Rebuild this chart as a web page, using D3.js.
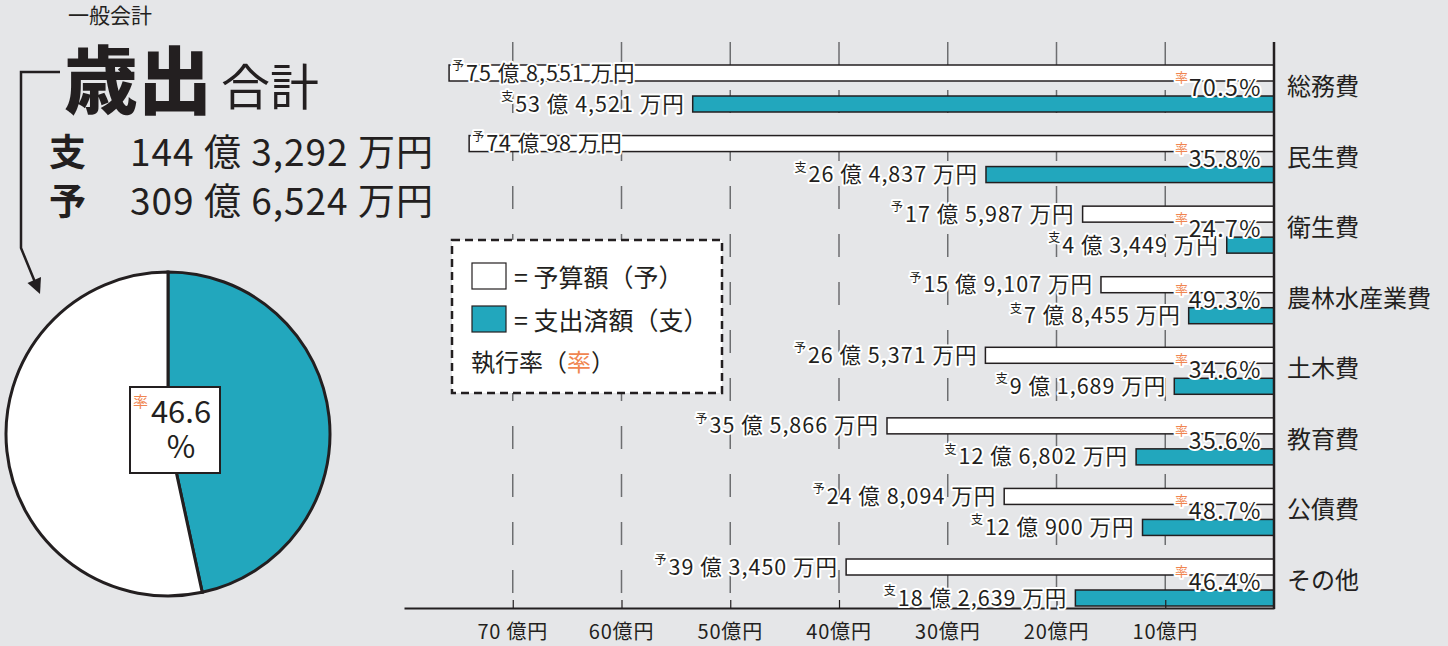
<!DOCTYPE html>
<html>
<head>
<meta charset="utf-8">
<script src="https://cdn.jsdelivr.net/npm/d3@7"></script>
<style>
  body { margin: 0; background: #e5e6e8; }
  svg { display: block; }
  text { font-family: 'Liberation Sans Narrow', 'Noto Sans CJK JP', sans-serif; fill: #231f20; }
  .jp { font-family: 'Noto Sans CJK JP', sans-serif; }
  .halo { paint-order: stroke; stroke: #fff; stroke-width: 4px; stroke-linejoin: round; }
</style>
</head>
<body>
<svg id="chart" width="1448" height="646"></svg>
<script>
// ------- Data (億円) -------
const categories = ['総務費', '民生費', '衛生費', '農林水産業費', '土木費', '教育費', '公債費', 'その他'];
const budget = [75.8551, 74.0098, 17.5987, 15.9107, 26.5371, 35.5866, 24.8094, 39.3450];
const budgetLabels = ['75 億 8,551 万円', '74 億 98 万円', '17 億 5,987 万円', '15 億 9,107 万円',
    '26 億 5,371 万円', '35 億 5,866 万円', '24 億 8,094 万円', '39 億 3,450 万円'];
const spent = [53.4521, 26.4837, 4.3449, 7.8455, 9.1689, 12.6802, 12.0900, 18.2639];
const spentLabels = ['53 億 4,521 万円', '26 億 4,837 万円', '4 億 3,449 万円', '7 億 8,455 万円',
    '9 億 1,689 万円', '12 億 6,802 万円', '12 億 900 万円', '18 億 2,639 万円'];
const rates = ['70.5%', '35.8%', '24.7%', '49.3%', '34.6%', '35.6%', '48.7%', '46.4%'];
const tickValues = [10, 20, 30, 40, 50, 60, 70];
const tickLabels = ['10億円', '20億円', '30億円', '40億円', '50億円', '60億円', '70 億円'];

const totalSpent = 144.3292;
const totalBudget = 309.6524;
const totalRate = '46.6';
const totalSpentLabel = '144 億 3,292 万円';
const totalBudgetLabel = '309 億 6,524 万円';

const teal = '#22a7bd';
const orange = '#f08550';
const ink = '#231f20';

const svg = d3.select('#chart');

// ------- Scales -------
const x = d3.scaleLinear().domain([0, 80]).range([1274, 404]);
const y = d3.scalePoint().domain(categories).range([86, 580]);
const barH = 16;

const rows = categories.map((c, i) => ({
    cat: c, budget: budget[i], spent: spent[i],
    budgetLabel: budgetLabels[i], spentLabel: spentLabels[i], rate: rates[i]
}));

// ------- Grid lines -------
svg.append('g')
    .selectAll('line')
    .data(tickValues)
    .join('line')
        .attr('x1', d => x(d)).attr('x2', d => x(d))
        .attr('y1', 42).attr('y2', 606)
        .attr('stroke', '#6d6e70')
        .attr('stroke-width', 1.5)
        .attr('stroke-dasharray', '23,25');

// ------- Bars -------
const barsG = svg.append('g');

barsG.selectAll('rect.budget')
    .data(rows)
    .join('rect')
        .attr('class', 'budget')
        .attr('x', d => x(d.budget))
        .attr('y', d => y(d.cat) - 21)
        .attr('width', d => x(0) - x(d.budget))
        .attr('height', barH)
        .attr('fill', '#fff')
        .attr('stroke', ink)
        .attr('stroke-width', 1.5);

barsG.selectAll('rect.spent')
    .data(rows)
    .join('rect')
        .attr('class', 'spent')
        .attr('x', d => x(d.spent))
        .attr('y', d => y(d.cat) + 10)
        .attr('width', d => x(0) - x(d.spent))
        .attr('height', barH)
        .attr('fill', teal)
        .attr('stroke', ink)
        .attr('stroke-width', 1.5);

// ------- Axes -------
svg.append('line')
    .attr('x1', x(0)).attr('x2', x(0))
    .attr('y1', 42).attr('y2', 609)
    .attr('stroke', ink).attr('stroke-width', 2.5);

const axisG = svg.append('g')
    .attr('transform', 'translate(0, 608)')
    .call(d3.axisBottom(x).tickValues(tickValues).tickSizeInner(-8).tickSizeOuter(0).tickFormat(''));
axisG.select('.domain').attr('stroke', ink).attr('stroke-width', 2);
axisG.selectAll('.tick line').attr('stroke', ink).attr('stroke-width', 1.2);

svg.append('g')
    .selectAll('text')
    .data(tickValues)
    .join('text')
        .attr('x', d => x(d))
        .attr('y', 639)
        .attr('text-anchor', 'middle')
        .attr('font-size', 20)
        .attr('letter-spacing', 0.8)
        .text((d, i) => tickLabels[i]);

// ------- Category labels -------
svg.append('g')
    .selectAll('text')
    .data(categories)
    .join('text')
        .attr('class', 'jp')
        .attr('x', 1287)
        .attr('y', d => y(d) + 9)
        .attr('font-size', 24)
        .text(d => d);

// ------- Value labels -------
const labelG = svg.append('g');

const addValueLabel = (mark, text, barLeft, cy) => {
    const g = labelG.append('g');
    const t = g.append('text')
        .attr('class', 'halo')
        .attr('font-size', 21.5)
        .attr('letter-spacing', 1)
        .attr('y', cy + 7.5)
        .text(text);
    const w = t.node().getComputedTextLength();
    let start;
    if (barLeft - w - 26 < x(80)) {
        start = barLeft + 17;
    } else {
        start = barLeft - 8 - w;
    }
    t.attr('x', start);
    g.append('text')
        .attr('class', 'halo jp')
        .attr('font-size', 12)
        .attr('x', start - 14)
        .attr('y', cy - 3)
        .text(mark);
};

rows.forEach(d => {
    addValueLabel('予', d.budgetLabel, x(d.budget), y(d.cat) - 13);
    addValueLabel('支', d.spentLabel, x(d.spent), y(d.cat) + 18);
});

// rate labels
const rateG = labelG.selectAll('g.rate')
    .data(rows)
    .join('g')
        .attr('class', 'rate');

rateG.append('text')
    .attr('class', 'halo')
    .attr('text-anchor', 'end')
    .attr('x', 1262)
    .attr('y', d => y(d.cat) + 10)
    .attr('font-size', 23)
    .attr('letter-spacing', 1.5)
    .text(d => d.rate);

rateG.append('text')
    .attr('class', 'halo jp')
    .attr('x', 1175)
    .attr('y', d => y(d.cat) - 4)
    .attr('font-size', 13)
    .style('fill', orange)
    .text('率');

// ------- Legend -------
const legend = svg.append('g');
legend.append('rect')
    .attr('x', 452).attr('y', 240)
    .attr('width', 270).attr('height', 153)
    .attr('fill', '#fff')
    .attr('stroke', ink)
    .attr('stroke-width', 2.5)
    .attr('stroke-dasharray', '8,5');

const legendItems = [
    { fill: '#fff', label: '= 予算額（予）' },
    { fill: teal, label: '= 支出済額（支）' }
];
legend.selectAll('g.item')
    .data(legendItems)
    .join('g')
        .attr('class', 'item')
        .attr('transform', (d, i) => `translate(472, ${263 + i * 43})`)
        .call(g => g.append('rect')
            .attr('width', 34).attr('height', 26)
            .attr('fill', d => d.fill)
            .attr('stroke', ink).attr('stroke-width', 1.2))
        .call(g => g.append('text')
            .attr('class', 'jp')
            .attr('x', 42).attr('y', 24)
            .attr('font-size', 25)
            .text(d => d.label));

const rateLegend = legend.append('text')
    .attr('class', 'jp')
    .attr('x', 471).attr('y', 371)
    .attr('font-size', 24);
rateLegend.append('tspan').text('執行率（');
rateLegend.append('tspan').style('fill', orange).text('率');
rateLegend.append('tspan').text('）');

// ------- Title block -------
svg.append('text').attr('class', 'jp')
    .attr('x', 68).attr('y', 23).attr('font-size', 21)
    .text('一般会計');
svg.append('text').attr('class', 'jp')
    .attr('x', 64).attr('y', 108).attr('font-size', 74).attr('font-weight', 900)
    .text('歳出');
svg.append('text').attr('class', 'jp')
    .attr('x', 221).attr('y', 105).attr('font-size', 49)
    .text('合計');

const totals = [
    { mark: '支', label: totalSpentLabel },
    { mark: '予', label: totalBudgetLabel }
];
const totalsG = svg.append('g')
    .selectAll('g')
    .data(totals)
    .join('g')
        .attr('transform', (d, i) => `translate(0, ${166 + i * 49})`);
totalsG.append('text').attr('class', 'jp')
    .attr('x', 49).attr('font-size', 37).attr('font-weight', 700)
    .text(d => d.mark);
totalsG.append('text')
    .attr('x', 130).attr('font-size', 37)
    .attr('letter-spacing', 1)
    .text(d => d.label);

// bracket arrow
svg.append('path')
    .attr('d', 'M60,72 H21 V248 L37,287')
    .attr('fill', 'none')
    .attr('stroke', ink)
    .attr('stroke-width', 2.5);
svg.append('path')
    .attr('d', 'M40,294 L27.5,283 L41,277 Z')
    .attr('fill', ink);

// ------- Pie -------
const pieG = svg.append('g').attr('transform', 'translate(168, 434)');
const pie = d3.pie().sort(null).value(d => d.value);
const arc = d3.arc().innerRadius(0).outerRadius(162);
const pieData = [
    { key: 'spent', value: totalSpent, fill: teal },
    { key: 'rest', value: totalBudget - totalSpent, fill: '#fff' }
];
pieG.selectAll('path')
    .data(pie(pieData))
    .join('path')
        .attr('d', arc)
        .attr('fill', d => d.data.fill)
        .attr('stroke', ink)
        .attr('stroke-width', 3);

pieG.append('rect')
    .attr('x', -38).attr('y', -47)
    .attr('width', 90).attr('height', 86)
    .attr('fill', '#fff')
    .attr('stroke', ink)
    .attr('stroke-width', 2);
pieG.append('text').attr('class', 'jp')
    .attr('x', -35).attr('y', -27).attr('font-size', 15)
    .style('fill', orange)
    .text('率');
pieG.append('text')
    .attr('x', 13).attr('y', -11).attr('font-size', 31)
    .attr('text-anchor', 'middle')
    .text(totalRate);
pieG.append('text')
    .attr('x', 13).attr('y', 24).attr('font-size', 31)
    .attr('text-anchor', 'middle')
    .text('%');
</script>
</body>
</html>
